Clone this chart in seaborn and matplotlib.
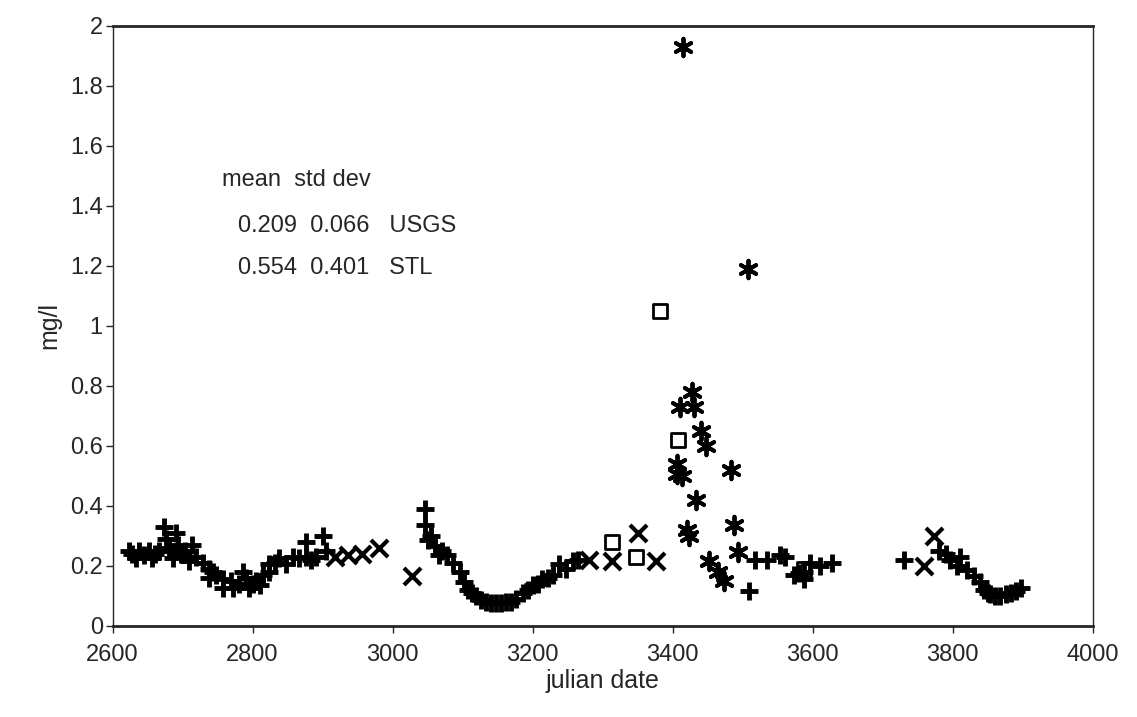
import matplotlib
matplotlib.use("Agg")
import matplotlib.pyplot as plt
import seaborn as sns

# USGS "+" samples (julian date, mg/l)
plus_x = [2623, 2628, 2633, 2638, 2645, 2652, 2657, 2660, 2666, 2673, 2676, 2681, 2686,
          2690, 2693, 2698, 2704, 2709, 2714, 2719, 2729, 2738, 2738, 2743, 2748, 2758,
          2758, 2769, 2772, 2780, 2786, 2790, 2795, 2800, 2805, 2810, 2815, 2824, 2824,
          2832, 2838, 2848, 2858, 2866, 2877, 2877, 2884, 2890, 2900, 2905,
          3046, 3046, 3051, 3055, 3061, 3066, 3071, 3078, 3086, 3097, 3102, 3108, 3113,
          3119, 3126, 3133, 3140, 3148, 3155, 3162, 3169, 3176, 3186, 3193, 3200, 3207,
          3214, 3222, 3229, 3237, 3247, 3257, 3265,
          3509, 3518, 3535, 3554, 3561, 3574, 3580, 3588, 3588, 3596, 3611, 3628,
          3730, 3781, 3790, 3796, 3806, 3810, 3820, 3830, 3839, 3845, 3850, 3854, 3861,
          3868, 3876, 3883, 3890, 3897]
plus_y = [0.25, 0.24, 0.225, 0.25, 0.235, 0.25, 0.225, 0.24, 0.25, 0.33, 0.29, 0.26, 0.225,
          0.31, 0.27, 0.24, 0.25, 0.215, 0.27, 0.23, 0.21, 0.19, 0.16, 0.18, 0.17, 0.155,
          0.125, 0.15, 0.125, 0.14, 0.18, 0.16, 0.125, 0.14, 0.15, 0.135, 0.17, 0.205, 0.18,
          0.21, 0.225, 0.205, 0.23, 0.225, 0.23, 0.28, 0.22, 0.23, 0.30, 0.25,
          0.39, 0.335, 0.285, 0.30, 0.265, 0.235, 0.25, 0.235, 0.21, 0.18, 0.145, 0.12, 0.11,
          0.10, 0.085, 0.08, 0.075, 0.075, 0.075, 0.08, 0.08, 0.09, 0.11, 0.12, 0.135, 0.14,
          0.155, 0.16, 0.17, 0.205, 0.19, 0.215, 0.22,
          0.115, 0.22, 0.22, 0.235, 0.23, 0.17, 0.175, 0.18, 0.155, 0.21, 0.20, 0.21,
          0.22, 0.25, 0.24, 0.22, 0.20, 0.23, 0.185, 0.165, 0.145, 0.12, 0.11, 0.105, 0.10,
          0.10, 0.105, 0.11, 0.115, 0.125]

# "x" samples
cross_x = [2918, 2937, 2957, 2980, 3028, 3280, 3314, 3350, 3376, 3759, 3773]
cross_y = [0.23, 0.235, 0.24, 0.26, 0.165, 0.22, 0.215, 0.31, 0.215, 0.20, 0.30]

# STL asterisk samples
star_x = [3415, 3508, 3427, 3411, 3430, 3440, 3447, 3406, 3406, 3413, 3483, 3433,
          3421, 3423, 3488, 3494, 3452, 3465, 3474]
star_y = [1.93, 1.19, 0.78, 0.73, 0.73, 0.65, 0.60, 0.54, 0.505, 0.50, 0.52, 0.42,
          0.32, 0.30, 0.335, 0.245, 0.217, 0.18, 0.15]

# open square samples
square_x = [3382, 3408, 3314, 3348, 3588]
square_y = [1.05, 0.62, 0.28, 0.23, 0.19]

x_ticks = [2600, 2800, 3000, 3200, 3400, 3600, 3800, 4000]
y_ticks = [0, 0.2, 0.4, 0.6, 0.8, 1, 1.2, 1.4, 1.6, 1.8, 2]
y_tick_labels = ["0", "0.2", "0.4", "0.6", "0.8", "1", "1.2", "1.4", "1.6", "1.8", "2"]

sns.set_style("ticks")
plt.rcParams["font.family"] = ["Liberation Sans", "DejaVu Sans"]

fig = plt.figure(figsize=(11.37, 7.17), dpi=100)
ax = fig.add_axes([0.099, 0.127, 0.862, 0.837])

sns.scatterplot(x=plus_x, y=plus_y, marker="+", s=170, color="black", linewidth=3.5, ax=ax)
sns.scatterplot(x=cross_x, y=cross_y, marker="x", s=150, color="black", linewidth=3, ax=ax)
sns.scatterplot(x=star_x, y=star_y, marker=(6, 2, 0), s=160, color="black", linewidth=2.8, ax=ax)
sns.scatterplot(x=square_x, y=square_y, marker="s", s=100, facecolor="none",
                edgecolor="black", linewidth=2, ax=ax)

ax.set_xlim(2600, 4000)
ax.set_ylim(0, 2)
ax.set_xticks(x_ticks)
ax.set_yticks(y_ticks)
ax.set_yticklabels(y_tick_labels)
ax.tick_params(labelsize=17, length=5, width=1, direction="out")
ax.tick_params(axis="x", pad=8)
ax.tick_params(axis="y", pad=2)
for side in ["top", "bottom"]:
    ax.spines[side].set_linewidth(2)
for side in ["left", "right"]:
    ax.spines[side].set_linewidth(1)

ax.set_xlabel("julian date", fontsize=18, labelpad=2)
ax.set_ylabel("mg/l", fontsize=18, labelpad=6)

ax.text(0.112, 0.743, "mean  std dev", transform=ax.transAxes, fontsize=17, va="center")
ax.text(0.128, 0.667, "0.209  0.066   USGS", transform=ax.transAxes, fontsize=17, va="center")
ax.text(0.128, 0.597, "0.554  0.401   STL", transform=ax.transAxes, fontsize=17, va="center")

fig.savefig("out.png", dpi=100)
